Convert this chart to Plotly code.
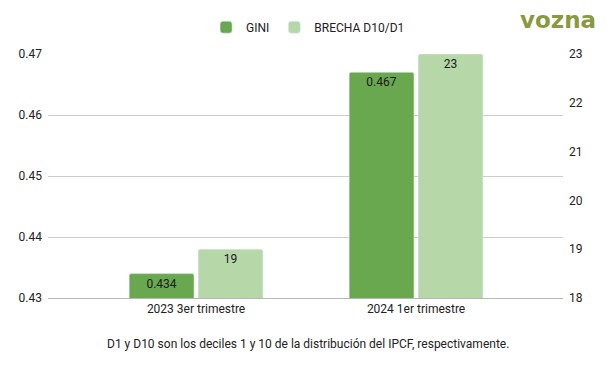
import plotly.graph_objects as go

categories = ["2023 3er trimestre", "2024 1er trimestre"]
gini = [0.434, 0.467]
brecha = [19, 23]
left_ticks = [0.43, 0.44, 0.45, 0.46, 0.47]
right_ticks = [18, 19, 20, 21, 22, 23]

FONT = "Roboto, Arial, sans-serif"

fig = go.Figure()
fig.add_trace(go.Bar(
    name="GINI", x=categories, y=gini, marker=dict(color="#6aa84f", cornerradius=2),
    text=[f"{v:.3f}" for v in gini], textposition="inside", insidetextanchor="end",
    textfont=dict(color="#1a1a1a", size=12, family=FONT), offsetgroup="a", yaxis="y",
))
fig.add_trace(go.Bar(
    name="BRECHA D10/D1", x=categories, y=brecha, marker=dict(color="#b6d7a8", cornerradius=2),
    text=[str(v) for v in brecha], textposition="inside", insidetextanchor="end",
    textfont=dict(color="#1a1a1a", size=12, family=FONT), offsetgroup="b", yaxis="y2",
))

fig.update_layout(
    width=610, height=371,
    margin=dict(l=48, r=47, t=54, b=73, autoexpand=False),
    paper_bgcolor="white", plot_bgcolor="white",
    font=dict(family=FONT, size=12, color="#222222"),
    barmode="group", bargap=0.373, bargroupgap=0.06,
    showlegend=True,
    legend=dict(orientation="h", x=0.505, xanchor="center", y=1.11, yanchor="middle",
                font=dict(size=12, color="#222222", family=FONT), itemwidth=30,
                traceorder="normal"),
    xaxis=dict(range=[-0.673, 1.668], showgrid=False, showline=True, linecolor="#b7b7b7",
               linewidth=1, ticks="", tickfont=dict(size=12, color="#222222"), automargin=False),
    yaxis=dict(range=[0.43, 0.47], tickvals=left_ticks, ticktext=[f"{t:.2f}" for t in left_ticks],
               showgrid=True, gridcolor="#cccccc", gridwidth=1, zeroline=False,
               tickfont=dict(size=12, color="#222222"), ticks="", ticklabelstandoff=5,
               automargin=False),
    yaxis2=dict(range=[18, 23], tickvals=right_ticks, overlaying="y", side="right",
                showgrid=False, zeroline=False, tickfont=dict(size=12, color="#222222"),
                ticks="", ticklabelstandoff=5, automargin=False),
    annotations=[
        dict(text="D1 y D10 son los deciles 1 y 10 de la distribución del IPCF, respectivamente.",
             xref="paper", yref="paper", x=0.505, y=-0.1885, xanchor="center", yanchor="middle",
             showarrow=False, font=dict(size=12, color="#222222", family=FONT)),
        dict(text="<b>vozna</b>", xref="paper", yref="paper", x=1.068, y=1.139,
             xanchor="right", yanchor="middle", showarrow=False,
             font=dict(size=23, color="#88993f", family="DejaVu Sans, Arial, sans-serif")),
    ],
)

fig.write_html("out.html", config={"displayModeBar": False},
               post_script="document.body.style.margin='0';document.body.style.overflow='hidden';")
